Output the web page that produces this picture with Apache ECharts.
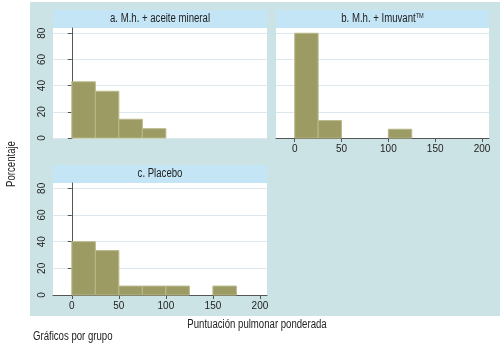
<!DOCTYPE html>
<html>
<head>
<meta charset="utf-8">
<script src="https://cdn.jsdelivr.net/npm/echarts@6/dist/echarts.min.js"></script>
<style>
html, body { margin: 0; padding: 0; background: #fff; }
#main { width: 500px; height: 352px; }
</style>
</head>
<body>
<div id="main"></div>
<script>
// histogram bins (lower edge) and width, percent per bin
var binStart = [0, 25, 50, 75, 100, 125, 150, 175];
var binWidth = 25;
var aceite = [42.9, 35.7, 14.3, 7.1, 0, 0, 0, 0];
var imuvant = [80.0, 13.3, 0, 0, 6.7, 0, 0, 0];
var placebo = [40.0, 33.3, 6.7, 6.7, 6.7, 0, 6.7, 0];
var xTicks = [0, 50, 100, 150, 200];
var yTicks = [0, 20, 40, 60, 80];

var barColor = '#9b9b63';
var barBorder = '#b9b98c';
var panelBg = '#cce3e5';
var headBg = '#c4e5f6';
var gridColor = '#dde8ee';
var txtFont = "'Liberation Sans', Arial, sans-serif";

function toData(vals) {
	var out = [];
	for (var i = 0; i < vals.length; i++) {
		if (vals[i] > 0) out.push([binStart[i], vals[i]]);
	}
	return out;
}

function renderBin(params, api) {
	var x0 = api.value(0), h = api.value(1);
	var p0 = api.coord([x0, 0]);
	var p1 = api.coord([x0 + binWidth, h]);
	return {
		type : 'rect',
		shape : { x : p0[0], y : p1[1], width : p1[0] - p0[0], height : p0[1] - p1[1] },
		style : { fill : barColor, stroke : barBorder, lineWidth : 1 }
	};
}

function xAxisOf(idx, showLabels) {
	return {
		type : 'value',
		gridIndex : idx,
		min : -20,
		max : 207.5,
		axisLine : { show : showLabels, lineStyle : { color : '#555', width : 1 } },
		axisTick : { show : showLabels, length : 4, customValues : xTicks, lineStyle : { color : '#555' } },
		axisLabel : { show : showLabels, customValues : xTicks, color : '#222', fontSize : 10, margin : 6, fontFamily : txtFont },
		splitLine : { show : false }
	};
}

function yAxisOf(idx, showLabels) {
	return {
		type : 'value',
		gridIndex : idx,
		min : 0,
		max : 84,
		offset : 2,
		axisLine : { show : showLabels, lineStyle : { color : '#555', width : 1 } },
		axisTick : { show : showLabels, length : 4, customValues : yTicks, lineStyle : { color : '#555' } },
		axisLabel : { show : showLabels, customValues : yTicks, rotate : 90, color : '#222', fontSize : 10, margin : 4, fontFamily : txtFont },
		splitLine : { show : true, customValues : yTicks, lineStyle : { color : gridColor, width : 1 } }
	};
}

var panels = [
	{ x : 53, y : 10, w : 214, title : '{t|a. M.h. + aceite mineral}' },
	{ x : 276, y : 10, w : 213, title : '{t|b. M.h. + Imuvant}{s|TM}' },
	{ x : 53, y : 165, w : 214, title : '{t|c. Placebo}' }
];

// condensed look: squeeze plain sans text horizontally
function label(x, y, text, align, rot, extra) {
	var st = { text : text, align : align, verticalAlign : 'middle', fontFamily : txtFont, fontSize : 12, fill : '#222' };
	if (extra) st.rich = extra;
	return { type : 'text', z : 5, x : x, y : y, rotation : rot || 0, scaleX : 0.8, style : st };
}

var graphics = [
	{ type : 'rect', z : -10, shape : { x : 30, y : 2, width : 470, height : 314 }, style : { fill : panelBg } }
];
panels.forEach(function(p) {
	graphics.push({ type : 'rect', z : -5, shape : { x : p.x, y : p.y, width : p.w, height : 18 }, style : { fill : headBg } });
	graphics.push({ type : 'rect', z : -5, shape : { x : p.x, y : p.y + 18, width : p.w, height : p.y > 100 ? 112 : 110 }, style : { fill : '#fff' } });
	graphics.push(label(p.x + p.w / 2, p.y + 9, p.title, 'center', 0, {
		t : { fontFamily : txtFont, fontSize : 12, fill : '#222' },
		s : { fontFamily : txtFont, fontSize : 7, fill : '#222', verticalAlign : 'top', padding : [0, 0, 6, 0] }
	}));
});
graphics.push(label(12, 164, 'Porcentaje', 'center', Math.PI / 2));
graphics.push(label(257, 325, 'Puntuación pulmonar ponderada', 'center'));
graphics.push(label(33, 337, 'Gráficos por grupo', 'left'));

var myChart = echarts.init(document.getElementById('main'), null, { renderer : 'canvas' });
myChart.setOption({
	animation : false,
	grid : [
		{ left : 53, top : 28, width : 214, height : 110 },
		{ left : 276, top : 28, width : 213, height : 110 },
		{ left : 53, top : 183, width : 214, height : 112 }
	],
	xAxis : [ xAxisOf(0, false), xAxisOf(1, true), xAxisOf(2, true) ],
	yAxis : [ yAxisOf(0, true), yAxisOf(1, false), yAxisOf(2, true) ],
	graphic : graphics,
	series : [ {
		type : 'custom', xAxisIndex : 0, yAxisIndex : 0, renderItem : renderBin, data : toData(aceite)
	}, {
		type : 'custom', xAxisIndex : 1, yAxisIndex : 1, renderItem : renderBin, data : toData(imuvant)
	}, {
		type : 'custom', xAxisIndex : 2, yAxisIndex : 2, renderItem : renderBin, data : toData(placebo)
	} ]
});
</script>
</body>
</html>
